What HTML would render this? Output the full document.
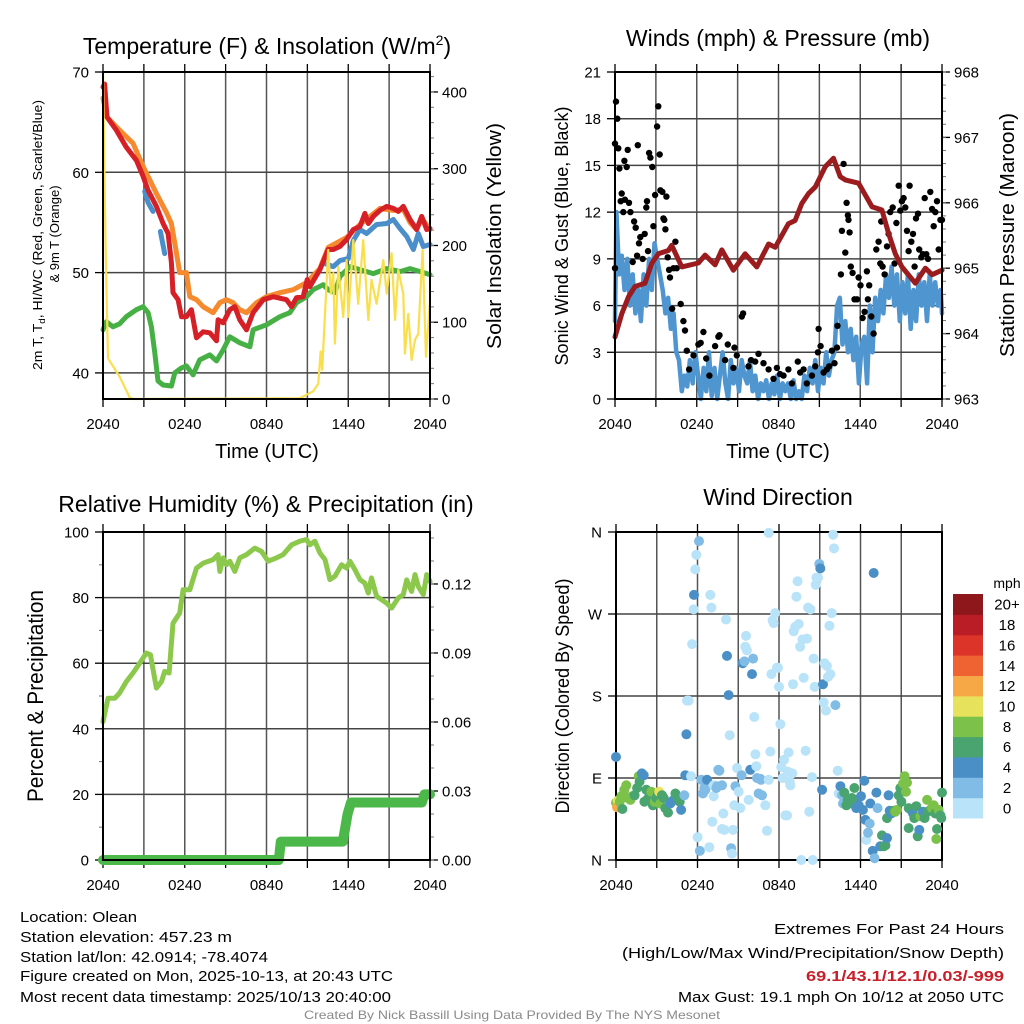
<!DOCTYPE html>
<html><head><meta charset="utf-8"><style>
html,body{margin:0;padding:0;background:#fff;}
svg{display:block;font-family:"Liberation Sans",sans-serif;}
</style></head><body>
<svg id="chart" width="1024" height="1024" viewBox="0 0 1024 1024" xmlns="http://www.w3.org/2000/svg">
<rect width="1024" height="1024" fill="#fff"/>
<text x="267" y="54" font-size="23" text-anchor="middle">Temperature (F) &amp; Insolation (W/m<tspan font-size="14" dy="-9">2</tspan><tspan dy="9">)</tspan></text>
<text x="778" y="46" font-size="23" text-anchor="middle">Winds (mph) &amp; Pressure (mb)</text>
<text x="266" y="512" font-size="23" text-anchor="middle">Relative Humidity (%) &amp; Precipitation (in)</text>
<text x="778" y="505" font-size="23" text-anchor="middle">Wind Direction</text>
<text x="267" y="458" font-size="20" text-anchor="middle">Time (UTC)</text>
<text x="778" y="458" font-size="20" text-anchor="middle">Time (UTC)</text>
<text transform="translate(42,235) rotate(-90)" font-size="13" text-anchor="middle" textLength="270" lengthAdjust="spacingAndGlyphs">2m T, T<tspan font-size="9" dy="3">d</tspan><tspan dy="-3">, HI/WC (Red, Green, Scarlet/Blue)</tspan></text>
<text transform="translate(59,234) rotate(-90)" font-size="13" text-anchor="middle">&amp; 9m T (Orange)</text>
<text transform="translate(501,236) rotate(-90)" font-size="20" text-anchor="middle" textLength="226" lengthAdjust="spacingAndGlyphs">Solar Insolation (Yellow)</text>
<text transform="translate(568,236) rotate(-90)" font-size="18" text-anchor="middle" textLength="259" lengthAdjust="spacingAndGlyphs">Sonic Wind &amp; Gust (Blue, Black)</text>
<text transform="translate(1014,235) rotate(-90)" font-size="20" text-anchor="middle" textLength="244" lengthAdjust="spacingAndGlyphs">Station Pressure (Maroon)</text>
<text transform="translate(43,696) rotate(-90)" font-size="22" text-anchor="middle" textLength="212" lengthAdjust="spacingAndGlyphs">Percent &amp; Precipitation</text>
<text transform="translate(569,696) rotate(-90)" font-size="19" text-anchor="middle" textLength="235" lengthAdjust="spacingAndGlyphs">Direction (Colored By Speed)</text>
<text x="1007" y="588" font-size="14" text-anchor="middle">mph</text>
<g font-size="15">
<text x="20" y="922" textLength="117" lengthAdjust="spacingAndGlyphs">Location: Olean</text>
<text x="20" y="942" textLength="212" lengthAdjust="spacingAndGlyphs">Station elevation: 457.23 m</text>
<text x="20" y="962" textLength="248" lengthAdjust="spacingAndGlyphs">Station lat/lon: 42.0914; -78.4074</text>
<text x="20" y="981" textLength="373" lengthAdjust="spacingAndGlyphs">Figure created on Mon, 2025-10-13, at 20:43 UTC</text>
<text x="20" y="1002" textLength="371" lengthAdjust="spacingAndGlyphs">Most recent data timestamp: 2025/10/13 20:40:00</text>
</g>
<g font-size="15" text-anchor="end">
<text x="1004" y="934" textLength="230" lengthAdjust="spacingAndGlyphs">Extremes For Past 24 Hours</text>
<text x="1004" y="958" textLength="382" lengthAdjust="spacingAndGlyphs">(High/Low/Max Wind/Precipitation/Snow Depth)</text>
<text x="1004" y="981" fill="#c8202a" font-weight="bold" textLength="198" lengthAdjust="spacingAndGlyphs">69.1/43.1/12.1/0.03/-999</text>
<text x="1004" y="1002" textLength="326" lengthAdjust="spacingAndGlyphs">Max Gust: 19.1 mph On 10/12 at 2050 UTC</text>
</g>
<text x="512" y="1019" font-size="12" fill="#8a8a8a" text-anchor="middle" textLength="416" lengthAdjust="spacingAndGlyphs">Created By Nick Bassill Using Data Provided By The NYS Mesonet</text>
</svg>
<script>
// ---------- data ----------
const timeTickLabels = ['2040','0240','0840','1440','2040'];
const timeTickHours = [0,6,12,18,24];
const tempTicks = [40,50,60,70];
const solarTicks = [0,100,200,300,400];
const windTicks = [0,3,6,9,12,15,18,21];
const pressureTicks = [963,964,965,966,967,968];
const rhTicks = [0,20,40,60,80,100];
const precipTicks = [0,0.03,0.06,0.09,0.12];
const precipTickLabels = ['0.00','0.03','0.06','0.09','0.12'];
const dirTicks = [0,90,180,270,360];
const dirTickLabels = ['N','E','S','W','N'];
const speedBinLabels = ['0','2','4','6','8','10','12','14','16','18','20+'];
const speedBinColors = ['#b8e3f8','#80bce6','#4b8fc7','#4aa46f','#7cc14a','#e7e25c','#f6a847','#ef6231','#dc3428','#bb1d27','#8e171b'];

const redTime = [0,0.12,0.29,0.98,1.71,2.45,2.94,3.31,3.92,4.41,4.78,5.02,5.14,5.51,5.76,6.12,6.49,6.86,7.35,7.84,8.33,8.45,8.82,9.31,9.67,10.04,10.53,11.02,11.76,12.49,13.47,13.84,14.2,14.69,14.99,15.18,15.92,16.53,16.9,17.39,17.88,18.37,18.86,19.22,19.47,19.84,20.33,20.82,21.31,21.67,22.04,22.53,23.02,23.39,23.76,24];
const redTemp = [68.5,68.8,65.5,64.2,62.5,61.2,59.6,58.2,56.6,54.9,53.9,51,48,47.3,45.6,45.6,46.3,43.5,44.1,44,43.2,45.3,45,46.3,46.6,45.3,44.3,46,47.3,47.6,47.3,46.6,47.5,47.6,49.3,48.6,50.3,52.3,52.3,52.6,53.3,54.3,54.6,55.9,54.9,55.6,56.2,56.6,56.4,56.1,56.6,55.3,54.3,55.6,54.3,54.4];
const orangeTime = [0,0.29,1.22,2.2,2.94,3.92,4.65,5.02,5.39,5.63,6.12,6.37,6.86,7.35,8.08,8.57,9.06,9.55,10.04,10.53,11.27,12,12.98,13.96,14.94,15.92,16.53,17.88,18.86,20.33,21.31,22.04,22.53,23.02,23.39,24];
const orangeTemp = [67.4,65.5,64.2,62.9,60.6,57.9,56,54.9,52,50,50,47.6,47.3,46.6,46,47,47.3,47,46.3,46,47,47.6,48,48.3,49,50.4,52.5,53.5,54.8,56.4,56.2,56.3,55,54.3,55.4,54.3];
const chillTime = [3.06,3.3,3.67,3.9,4.21,4.53,4.8,16.29,16.9,17.39,18.0,18.37,18.86,19.35,20.08,20.82,21.31,21.8,22.29,22.78,23.14,23.51,24];
const chillTemp = [58.1,57,56.1,null,54.1,51.9,null,50.9,50.6,51.2,51.4,53.2,54.3,53.9,54.8,54.9,55.3,54.4,53.6,52.3,53.9,52.6,52.8];
const dewTime = [0,0.24,0.73,1.22,1.71,2.45,2.94,3.31,3.55,3.8,4.04,4.41,5.02,5.27,5.76,6.12,6.61,7.1,7.84,8.33,8.82,9.31,10.04,10.78,11.02,12,12.98,13.71,14.2,14.94,15.43,16.16,16.53,17.02,17.39,18.12,18.86,19.84,20.82,21.8,22.53,23.27,24];
const dewTemp = [44.3,45.1,44.6,44.9,45.6,46.3,46.6,46,44.6,42,39.2,38.8,38.7,40,40.5,40.7,39.8,41.3,41.8,41.2,42.3,43.6,43,42.6,44.3,44.8,45.6,46,47,47.6,48.3,48.8,48.3,48,49.6,50.6,50.3,49.9,50.4,50.1,50.4,50.1,49.8];
const solarTime = [0,0.05,0.2,0.37,1.22,1.96,2.2,14.45,15.43,15.8,15.97,16.09,16.29,16.53,16.73,16.9,17.02,17.27,17.63,17.88,18,18.37,18.73,19.1,19.47,19.71,20.08,20.57,20.82,21.18,21.43,21.67,22.04,22.16,22.41,22.65,22.9,23.14,23.46,23.71,24];
const solarVal = [424,363,190,53,29,2,0,1,10,20,62,38,111,194,137,164,72,172,107,181,107,207,124,207,103,155,124,181,137,190,103,168,137,59,111,51,77,85,194,55,129];

const presTime = [0,0.49,0.98,1.47,2.2,2.69,3.18,3.92,4.16,4.9,6.12,6.61,7.35,7.84,8.69,9.55,10.41,11.27,11.76,12.73,13.22,13.71,14.2,14.69,15.43,16.04,16.53,16.9,17.88,18.86,19.59,20.08,20.57,21.06,22.04,22.78,23.27,24];
const presVal = [963.95,964.3,964.56,964.72,964.77,965.07,965.22,965.27,965.35,965.02,965.08,965.2,965.05,965.28,964.97,965.22,965.02,965.37,965.32,965.68,965.73,965.99,966.14,966.24,966.55,966.68,966.4,966.35,966.3,965.94,965.89,965.53,965.22,965.02,964.77,965.0,964.9,964.97];
const windTime = [0,0.1,0.3,0.5,0.7,0.9,1.1,1.3,1.5,1.7,1.9,2.1,2.3,2.5,2.7,2.9,3.1,3.3,3.5,3.7,3.9,4.1,4.3,4.5,4.7,4.9,5.1,5.3,5.5,5.7,5.9,6.1,6.3,6.5,6.7,6.9,7.1,7.3,7.5,7.7,7.9,8.1,8.3,8.5,8.7,8.9,9.1,9.3,9.5,9.7,9.9,10.1,10.3,10.5,10.7,10.9,11.1,11.3,11.5,11.7,11.9,12.1,12.3,12.5,12.7,12.9,13.1,13.3,13.5,13.7,13.9,14.1,14.3,14.5,14.7,14.9,15.1,15.3,15.5,15.7,15.9,16.1,16.3,16.5,16.7,16.9,17.1,17.3,17.5,17.7,17.9,18.1,18.3,18.5,18.7,18.9,19.1,19.3,19.5,19.7,19.9,20.1,20.3,20.5,20.7,20.9,21.1,21.3,21.5,21.7,21.9,22.1,22.3,22.5,22.7,22.9,23.1,23.3,23.5,23.7,23.9,24];
const windSpeed = [5,12,8,9.2,7,9,6,8,5.5,7,5,8,6,9,7,10,9,8,7,5.5,6.5,4.5,5.5,3,2.5,0.5,1.5,0.8,2.5,1,3,1.5,0,2,0.5,3,0.2,2,0,1.5,3,1,0,2.5,1,2,0.5,2.5,1.5,1,2.5,0.5,1.5,0,1,0.5,1.2,0,1,0.3,1.5,0,1,0.5,1,0,1.2,0,0.5,0,1.5,0.5,2,1,2.5,0.5,2,1,3,1.5,2.5,3,6,6.5,3.5,5,3,4.5,2.5,4,1,3.5,4,1,6,3,6.5,5,7,5.5,8,6.5,8.5,6,8,5,7.5,5.5,8,4.5,7,5,8,6,7.5,5,8,6,7.5,6,7,5.5];
const gustTime = [0,0.07,0.17,0,0.24,0.32,0.49,0.42,0.61,0.73,0.69,0.86,0.93,1.03,1.13,1.40,1.52,1.30,1.62,1.67,1.76,1.86,2.03,2.18,2.30,2.35,2.42,2.50,2.60,2.74,2.82,2.94,3.09,3.18,3.28,3.33,3.48,3.55,3.62,3.70,3.77,3.87,3.97,4.04,4.19,4.29,4.43,4.53,4.82,5.02,5.14,5.27,5.44,5.76,6.12,6.29,6.49,6.69,6.93,7.35,7.59,7.67,8.08,8.28,8.69,8.77,8.94,9.31,9.40,9.80,9.99,10.29,10.53,10.90,11.27,11.63,11.88,12.12,12.37,12.73,12.98,13.42,13.59,13.84,14.08,14.45,14.69,14.89,14.94,15.09,15.31,15.55,15.72,15.92,16.11,16.29,16.33,16.58,16.65,16.78,16.90,17.00,17.09,17.14,17.22,17.31,17.44,17.58,17.76,17.88,18.02,18.17,18.32,18.49,18.56,18.66,18.81,18.98,19.18,19.35,19.47,19.54,19.64,19.79,19.96,20.08,20.20,20.38,20.52,20.65,20.82,20.94,21.06,21.18,21.31,21.43,21.55,21.62,21.75,21.87,21.99,22.09,22.24,22.33,22.48,22.60,22.73,22.85,22.97,23.14,23.27,23.39,23.51,23.63,23.76,23.88,24];
const gustSpeed = [8.4,19.1,18,16.4,16.1,14.8,13.2,12.7,12.0,12.8,15.3,14.9,16.0,12.6,12.0,11.4,11.0,8.8,9.2,16.3,10.0,10.4,9.0,10.6,12.3,12.7,9.5,15.8,15.5,14.9,11.1,13.1,17.5,18.8,15.7,13.4,13.3,11.6,11.5,10.9,13.0,9.1,8.3,7.8,5.8,8.4,10.1,8.4,6.1,5.0,4.4,3.1,1.9,2.8,3.5,3.6,4.3,2.6,1.5,3.4,4.0,4.1,2.5,3.5,2.0,3.3,2.8,5.3,5.5,2.1,2.5,2.4,2.9,2.3,1.9,1.3,2.0,1.6,1.5,1.9,1.0,2.4,1.7,1.9,1.0,1.5,2.1,3.0,4.5,3.4,1.7,1.9,2.1,3.1,2.3,3.3,4.7,8.0,10.8,15.1,9.4,12.6,11.8,11.5,10.7,8.5,8.1,6.4,6.4,7.8,7.3,5.2,5.6,8.2,6.4,7.3,5.3,4.2,9.6,10.1,8.7,11.4,8.5,8.0,9.8,10.6,12.0,12.3,8.7,11.3,13.7,12.1,12.7,12.9,12.3,10.8,9.5,13.7,10.1,10.6,8.5,11.6,11.9,9.6,9.1,9.3,12.9,9.3,9.0,13.3,12.2,11.1,12.0,12.7,9.6,11.5,11.5];

const rhTime = [0,0.37,0.86,1.22,1.71,2.2,2.69,3.18,3.48,3.92,4.29,4.53,4.85,5.14,5.63,5.88,6.37,6.86,7.35,8.08,8.45,8.57,8.82,9.06,9.31,9.67,10.04,10.53,11.14,11.63,12.12,12.73,13.22,13.84,14.45,14.94,15.18,15.55,15.92,16.29,16.65,17.02,17.51,17.88,18.12,18.49,18.86,19.22,19.47,19.71,20.08,20.82,21.18,21.67,22.04,22.29,22.65,22.9,23.14,23.51,23.76,24];
const rhVal = [42.2,49.3,49.3,50.9,54.4,57,60,63.1,62.6,52.4,54.4,57.5,57,72.2,75.3,82.4,82.4,89,90.5,91.6,93.1,88,92.1,90,91.1,88,92.1,93.1,95.1,94.1,91.1,92.1,93.1,96.1,97.2,97.7,96.1,97.2,93.6,91.6,85.5,86.5,90,89,91.1,88.5,85.5,84.4,81.4,86,80.4,78.3,76.8,79.9,80.9,85.4,81.9,87,83.4,80.9,87,84.9];
const precipTime = [0,12.9,13.05,17.6,17.75,17.95,18.2,23.4,23.6,24];
const precipVal = [0,0,0.008,0.008,0.013,0.02,0.025,0.025,0.0285,0.0285];

const dirTime = [0,0,0.12,0.07,0.27,0.47,0.39,0.61,0.76,0.86,1.06,1.18,1.37,1.55,1.67,1.74,1.91,2.04,2.09,2.23,2.33,2.48,2.6,2.72,2.85,2.97,3.09,3.17,3.26,3.39,3.51,3.63,3.83,4.0,4.17,4.37,4.54,4.69,4.79,5.03,5.1,5.18,5.23,5.52,
6.11,5.91,5.84,5.74,5.72,5.6,5.35,6.28,6.4,6.5,6.7,6.58,6.94,7.02,7.19,7.19,7.39,7.44,7.53,7.61,7.8,7.9,7.09,6.01,6.18,6.87,7.8,7.98,8.1,8.17,8.29,8.37,8.47,8.54,8.61,8.71,8.79,8.91,9.03,9.15,9.25,9.33,9.45,9.57,9.52,9.64,9.77,9.89,10.01,10.09,10.18,10.26,10.33,10.38,10.5,10.63,10.67,10.75,10.99,11.12,11.24,11.36,11.24,11.44,11.53,11.61,11.71,11.85,11.93,12.0,12.1,12.17,12.27,12.37,12.47,12.59,12.64,12.71,12.79,12.83,12.98,13.03,13.08,13.2,13.28,13.37,13.45,13.55,13.64,13.72,13.82,13.96,14.06,14.14,14.23,14.31,14.43,14.48,14.55,14.63,14.7,14.75,14.87,14.97,15.04,15.17,15.24,15.29,15.34,15.46,15.53,15.61,15.71,15.78,15.88,15.98,16.05,16.15,16.32,
16.39,16.52,16.64,16.71,16.81,16.96,17.06,17.2,17.37,17.55,17.62,17.69,17.87,18.04,18.18,18.28,18.36,18.43,18.55,18.68,18.72,18.9,18.97,19.04,19.17,19.26,19.46,19.58,19.71,19.83,19.95,19.95,20.07,20.15,20.27,20.44,20.56,20.69,20.81,20.93,21.01,21.13,21.25,21.35,21.42,21.55,21.55,21.72,21.87,21.96,22.11,22.21,22.33,22.41,22.6,22.72,22.9,22.94,23.14,23.26,23.39,23.51,23.58,23.63,23.75,23.88,23.95,24];
const dirDeg = [113,63,65,58,64,56,70,77,82,68,66,70,71,79,92,86,95,93,64,77,67,73,75,60,64,68,73,75,62,71,68,57,52,62,65,73,68,64,55,71,93,138,175,92,
350,335,319,291,275,237,175,88,73,79,88,77,291,277,82,70,79,81,99,98,82,51,42,25,10,14,34,33,264,224,181,137,13,7,33,60,81,101,75,57,93,216,218,246,234,230,66,99,204,221,157,116,103,90,73,89,88,71,60,32,88,119,359,204,263,260,271,211,211,190,149,102,90,110,49,49,97,118,86,82,95,193,251,256,289,306,259,234,0,242,200,120,243,277,53,275,91,0,221,190,302,310,310,325,320,77,193,173,216,164,213,201,257,204,271,357,342,170,98,
73,81,71,62,74,60,66,62,68,79,66,57,60,70,55,87,44,22,30,40,62,10,315,2,74,57,15,27,15,16,46,24,71,54,51,54,53,55,71,79,64,84,92,75,85,57,35,55,51,46,59,26,33,48,53,46,66,53,55,57,60,51,23,34,55,49,46,74];
const dirSpeed = [5,9,11,13,9,7,9,9,9,9,9,9,7,7,9,7,5,5,7,7,7,7,9,7,9,7,7,11,9,7,7,7,7,5,5,7,7,7,5,3,5,5,1,1,
3,1,1,5,1,1,1,3,3,3.5,5,3,1,1,1,1,3.5,3,3.5,3.5,3,1,1,1,3.5,1,1,1,1,5,5,1,3.5,1,1,1,3,1,1,1,3.5,5,3.5,1,1,1,1,5,5,3.5,1,1,1,3.5,3,3.5,3,3,1,1,1,1,1,1,1,1,1,1,1,1,1,1,1,1,1,1,1,1,1,1,1,1,1,1,1,1,1,1,1,1,1,1,1,1,1,1,1,1,1,1,1,1,1,3.5,5,5,5,1,1,1,1,1,1,1,1,1,1,3.5,1,1,5,
3.5,3.5,7,7,7,7,7,7,7,5,5,5,5,5,5,1,3.5,3.5,5,5,5,3.5,5,3.5,5,7,7,7,7,5,5,5,5,7,9,9,7,7,7,9,9,9,9,7,7,7,5,7,7,7,5,9,5,7,9,7,7,9,9,7,9,7,9,7,7,7,5,7];

// ---------- helpers ----------
const NS='http://www.w3.org/2000/svg';
const svg=document.getElementById('chart');
function mk(tag,parent){const e=document.createElementNS(NS,tag);(parent||svg).appendChild(e);return e;}
function lin(d0,d1,r0,r1){return v=>r0+(v-d0)/(d1-d0)*(r1-r0);}
function txt(parent,x,y,s,size,anchor){const t=mk('text',parent);t.setAttribute('x',x);t.setAttribute('y',y);t.setAttribute('font-size',size);t.setAttribute('text-anchor',anchor);t.textContent=s;return t;}
function ln(parent,x1,y1,x2,y2,stroke,w){const l=mk('line',parent);l.setAttribute('x1',x1);l.setAttribute('y1',y1);l.setAttribute('x2',x2);l.setAttribute('y2',y2);l.setAttribute('stroke',stroke);l.setAttribute('stroke-width',w);return l;}
function series(parent,name,xs,ys,X,Y,color,w){
  const n=Math.min(xs.length,ys.length);let segs=[],cur=[];
  for(let i=0;i<n;i++){if(ys[i]===null){if(cur.length)segs.push(cur);cur=[];continue;}cur.push(X(xs[i]).toFixed(1)+','+Y(ys[i]).toFixed(1));}
  if(cur.length)segs.push(cur);
  segs.forEach(s=>{const p=mk('polyline',parent);
    
    
    p.setAttribute('points',s.join(' '));p.setAttribute('fill','none');p.setAttribute('stroke',color);p.setAttribute('stroke-width',w);p.setAttribute('stroke-linejoin','round');p.setAttribute('stroke-linecap','round');});
}
function panel(name,P,left,right,timeLabels){
  const g=mk('g');
  
  
  const X=lin(0,24,P.x0,P.x1);
  for(let h=0;h<=24;h+=3){const x=X(h);
    if(h>0&&h<24)ln(g,x,P.y0,x,P.y1,'#555',1.5);
    ln(g,x,P.y1,x,P.y1+8,'#000',1.3);ln(g,x,P.y0-8,x,P.y0,'#000',1.3);}
  left.ticks.forEach((v,i)=>{const y=left.Y(v);
    if(y>P.y0+1&&y<P.y1-1)ln(g,P.x0,y,P.x1,y,'#444',1.5);
    ln(g,P.x0-8,y,P.x0,y,'#000',1.3);
    const t=txt(g,P.x0-14,y+5.5,left.labels[i],15,'end');
    
    });
  if(left.minor)left.minor.forEach(v=>ln(g,P.x0-4,left.Y(v),P.x0,left.Y(v),'#777',1));
  if(right){right.ticks.forEach((v,i)=>{const y=right.Y(v);
      ln(g,P.x1,y,P.x1+8,y,'#000',1.3);
      const t=txt(g,P.x1+12,y+5.5,right.labels[i],15,'start');
      
      });
    if(right.minor)right.minor.forEach(v=>{const y=right.Y(v);if(y>=P.y0-1&&y<=P.y1+1)ln(g,P.x1,y,P.x1+4,y,'#777',1);});}
  timeTickHours.forEach((h,i)=>{const t=txt(g,X(h),P.y1+30,timeLabels[i],15,'middle');
    
    });
  return {g,X};
}
function frame(g,P){const r=mk('rect',g);
  
  
  r.setAttribute('x',P.x0);r.setAttribute('y',P.y0);r.setAttribute('width',P.x1-P.x0);r.setAttribute('height',P.y1-P.y0);r.setAttribute('fill','none');r.setAttribute('stroke','#000');r.setAttribute('stroke-width',2);}
function range(a,b,s){const o=[];for(let v=a;v<=b+1e-9;v+=s)o.push(+v.toFixed(4));return o;}

// ---------- panel 1: temperature ----------
const P1={x0:103,x1:430,y0:72,y1:399};
const tempY=lin(37.4,70,P1.y1,P1.y0), solY=lin(0,426,P1.y1,P1.y0);
const A=panel('temperature-panel',P1,{ticks:tempTicks,labels:tempTicks.map(String),Y:tempY},{ticks:solarTicks,labels:solarTicks.map(String),Y:solY,minor:range(0,420,20)},timeTickLabels);
series(A.g,'dewpoint-line',dewTime,dewTemp,A.X,tempY,'#46b045',5);
series(A.g,'temp-9m-line',orangeTime,orangeTemp,A.X,tempY,'#f58a2e',5);
series(A.g,'windchill-line',chillTime,chillTemp,A.X,tempY,'#4b8fca',5);
series(A.g,'temp-2m-line',redTime,redTemp,A.X,tempY,'#d62027',5);
series(A.g,'insolation-line',solarTime,solarVal,A.X,solY,'#f9df4c',2.2);
frame(A.g,P1);

// ---------- panel 2: winds & pressure ----------
const P2={x0:615,x1:942,y0:72,y1:399};
const windY=lin(0,21,P2.y1,P2.y0), presY=lin(963,968,P2.y1,P2.y0);
const B=panel('wind-panel',P2,{ticks:windTicks,labels:windTicks.map(String),Y:windY},{ticks:pressureTicks,labels:pressureTicks.map(String),Y:presY,minor:range(963,968,0.2)},timeTickLabels);
series(B.g,'sonic-wind-line',windTime,windSpeed,B.X,windY,'#4f95d0',4.5);
for(let i=0;i<Math.min(gustTime.length,gustSpeed.length);i++){const c=mk('circle',B.g);
  
  
  c.setAttribute('cx',B.X(gustTime[i]).toFixed(1));c.setAttribute('cy',windY(gustSpeed[i]).toFixed(1));c.setAttribute('r',3.2);c.setAttribute('fill','#000');}
series(B.g,'pressure-line',presTime,presVal,B.X,presY,'#9b1c1f',5);
frame(B.g,P2);

// ---------- panel 3: RH & precip ----------
const P3={x0:103,x1:430,y0:532,y1:860};
const rhY=lin(0,100,P3.y1,P3.y0), precY=lin(0,0.1426,P3.y1,P3.y0);
const C=panel('humidity-panel',P3,{ticks:rhTicks,labels:rhTicks.map(String),Y:rhY,minor:range(10,90,20)},{ticks:precipTicks,labels:precipTickLabels,Y:precY,minor:range(0,0.14,0.01)},timeTickLabels);
series(C.g,'precipitation-line',precipTime,precipVal,C.X,precY,'#4cb84a',10);
series(C.g,'humidity-line',rhTime,rhVal,C.X,rhY,'#8cc84b',5);
frame(C.g,P3);

// ---------- panel 4: wind direction ----------
const P4={x0:616,x1:942,y0:532,y1:860};
const dirY=lin(0,360,P4.y1,P4.y0);
const D=panel('direction-panel',P4,{ticks:dirTicks,labels:dirTickLabels,Y:dirY},null,timeTickLabels);
frame(D.g,P4);
for(let i=0;i<Math.min(dirTime.length,dirDeg.length,dirSpeed.length);i++){
  const bin=Math.min(10,Math.floor(dirSpeed[i]/2));
  const c=mk('circle',D.g);
  
  
  c.setAttribute('cx',D.X(dirTime[i]).toFixed(1));c.setAttribute('cy',dirY(dirDeg[i]).toFixed(1));c.setAttribute('r',5);c.setAttribute('fill',speedBinColors[bin]);}
const cb=mk('g');


const cbTop=594,cbBot=818,cbH=(cbBot-cbTop)/speedBinColors.length;
speedBinColors.forEach((col,i)=>{const y=cbBot-(i+1)*cbH;const r=mk('rect',cb);
  
  
  r.setAttribute('x',953);r.setAttribute('y',y.toFixed(1));r.setAttribute('width',30);r.setAttribute('height',(cbH+0.5).toFixed(1));r.setAttribute('fill',col);
  const t=txt(cb,1007,y+cbH/2+5.5,speedBinLabels[i],15,'middle');
  
  });
</script>
</body></html>
